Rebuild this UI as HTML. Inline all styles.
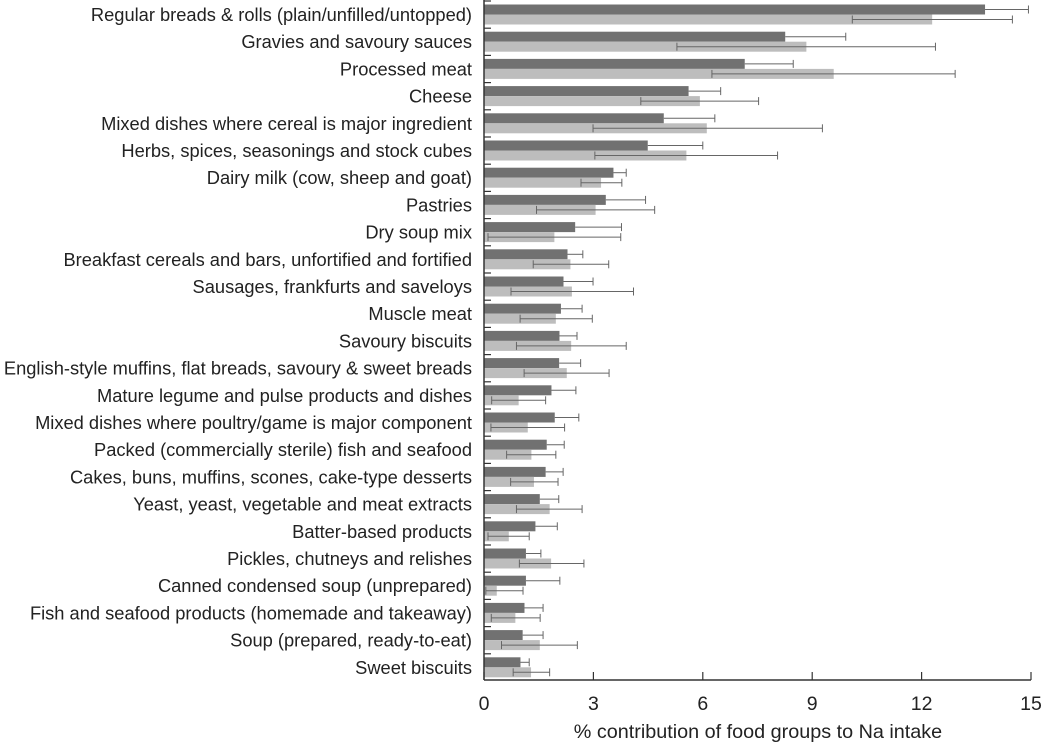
<!DOCTYPE html>
<html><head><meta charset="utf-8"><style>
body{margin:0;background:#fff;}
svg text{font-family:"Liberation Sans",Arial,sans-serif;fill:#222;}
</style></head><body>
<svg id="chart" width="1043" height="743" viewBox="0 0 1043 743" xmlns="http://www.w3.org/2000/svg">
<g id="bars"></g>
<g id="axes"></g>
</svg>
<script>
const categories=["Regular breads & rolls (plain/unfilled/untopped)","Gravies and savoury sauces","Processed meat","Cheese","Mixed dishes where cereal is major ingredient","Herbs, spices, seasonings and stock cubes","Dairy milk (cow, sheep and goat)","Pastries","Dry soup mix","Breakfast cereals and bars, unfortified and fortified","Sausages, frankfurts and saveloys","Muscle meat","Savoury biscuits","English-style muffins, flat breads, savoury & sweet breads","Mature legume and pulse products and dishes","Mixed dishes where poultry/game is major component","Packed (commercially sterile) fish and seafood","Cakes, buns, muffins, scones, cake-type desserts","Yeast, yeast, vegetable and meat extracts","Batter-based products","Pickles, chutneys and relishes","Canned condensed soup (unprepared)","Fish and seafood products (homemade and takeaway)","Soup (prepared, ready-to-eat)","Sweet biscuits"];
const darkValues=[13.74,8.26,7.15,5.61,4.93,4.49,3.55,3.34,2.50,2.29,2.18,2.11,2.07,2.06,1.85,1.94,1.72,1.69,1.53,1.41,1.15,1.15,1.11,1.06,1.00];
const darkHigh=[14.93,9.92,8.48,6.49,6.33,6.0,3.90,4.43,3.77,2.71,2.99,2.69,2.55,2.65,2.52,2.60,2.20,2.17,2.05,2.01,1.56,2.08,1.62,1.62,1.24];
const lightValues=[12.29,8.84,9.59,5.92,6.11,5.55,3.21,3.06,1.93,2.37,2.41,1.97,2.39,2.27,0.95,1.20,1.30,1.37,1.80,0.68,1.84,0.35,0.86,1.53,1.29];
const lightLow=[10.1,5.29,6.25,4.30,2.99,3.04,2.66,1.44,0.11,1.35,0.74,0.99,0.89,1.10,0.21,0.19,0.62,0.73,0.89,0.11,0.97,0.05,0.2,0.48,0.80];
const lightHigh=[14.49,12.38,12.92,7.53,9.28,8.05,3.78,4.68,3.75,3.42,4.10,2.97,3.90,3.43,1.69,2.21,1.97,2.03,2.69,1.24,2.74,1.07,1.54,2.56,1.80];
const xTicks=[0,3,6,9,12,15];

const NS="http://www.w3.org/2000/svg";
const x0=484,x1=1031,yTop=1,rowH=27.2,axisY=680;
const xs=v=>x0+(v/15)*(x1-x0);
const ys=i=>yTop+i*rowH;
function mk(tag,attrs,parent){const e=document.createElementNS(NS,tag);for(const k in attrs)e.setAttribute(k,attrs[k]);parent.appendChild(e);return e;}
const bars=document.getElementById('bars'),axes=document.getElementById('axes');
categories.forEach((c,i)=>{
  const y=ys(i);
  let r=mk('rect',{x:x0,y:y+3.5,width:xs(darkValues[i])-x0,height:10,fill:'#717171'},bars);
  
  
  r=mk('rect',{x:x0,y:y+13.5,width:xs(lightValues[i])-x0,height:10,fill:'#bdbdbd'},bars);
  
  
  const yd=y+8.5,yl=y+18.5;
  let g=mk('g',{stroke:'#666','stroke-width':1},bars);
  
  
  mk('line',{x1:xs(darkValues[i]),x2:xs(darkHigh[i]),y1:yd,y2:yd},g);
  mk('line',{x1:xs(darkHigh[i]),x2:xs(darkHigh[i]),y1:yd-4,y2:yd+4},g);
  g=mk('g',{stroke:'#666','stroke-width':1},bars);
  
  
  mk('line',{x1:xs(lightLow[i]),x2:xs(lightHigh[i]),y1:yl,y2:yl},g);
  mk('line',{x1:xs(lightLow[i]),x2:xs(lightLow[i]),y1:yl-4,y2:yl+4},g);
  mk('line',{x1:xs(lightHigh[i]),x2:xs(lightHigh[i]),y1:yl-4,y2:yl+4},g);
  const t=mk('text',{x:472,y:y+20,'text-anchor':'end','font-size':18.3},axes);
  t.textContent=c;
  
  
  const tk=mk('line',{x1:x0,x2:x0+7,y1:y,y2:y,stroke:'#333','stroke-width':1.2},axes);
  
  
});
let l=mk('line',{x1:x0,x2:x0,y1:0,y2:axisY,stroke:'#333','stroke-width':1.5},axes);


l=mk('line',{x1:x0,x2:x1,y1:axisY,y2:axisY,stroke:'#333','stroke-width':1.5},axes);


xTicks.forEach(v=>{
  const t=mk('line',{x1:xs(v),x2:xs(v),y1:axisY,y2:axisY-8,stroke:'#333','stroke-width':1.2},axes);
  
  
  const tl=mk('text',{x:xs(v),y:710,'text-anchor':'middle','font-size':19.5},axes);
  tl.textContent=v;
  
  
});
const tt=mk('text',{x:758,y:738,'text-anchor':'middle','font-size':19.8},axes);
tt.textContent='% contribution of food groups to Na intake';


</script>
</body></html>
